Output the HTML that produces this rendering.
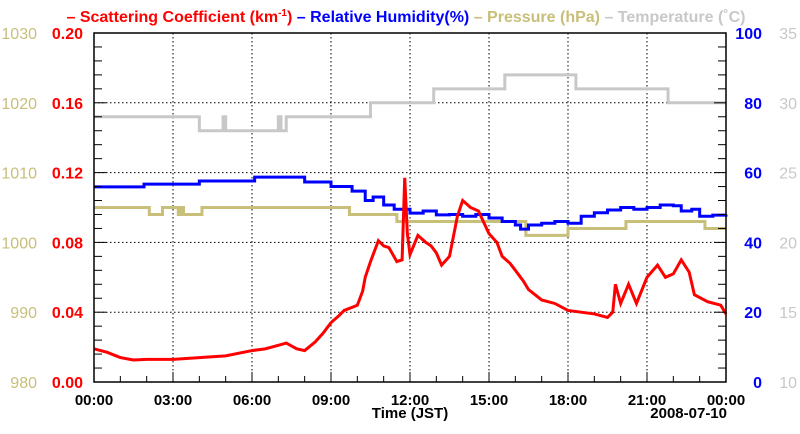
<!DOCTYPE html>
<html><head><meta charset="utf-8"><style>
body{margin:0;background:#fff}
svg{display:block;font-family:"Liberation Sans",sans-serif}
</style></head><body>
<svg id="c" width="800" height="434">
<text x="406" y="22" text-anchor="middle" font-size="16" font-weight="bold"><tspan fill="#ff0000">– Scattering Coefficient (km<tspan font-size="10" dy="-6">-1</tspan><tspan dy="6">)</tspan></tspan><tspan fill="#0000ff"> – Relative Humidity(%)</tspan><tspan fill="#c8bf7a"> – Pressure (hPa)</tspan><tspan fill="#c8c8c8"> – Temperature (˚C)</tspan></text>
<g id="grid"></g><g id="series"></g><g id="axes"></g>
<text x="410" y="418" text-anchor="middle" font-size="15" font-weight="bold">Time (JST)</text>
<text x="727" y="418" text-anchor="end" font-size="15" font-weight="bold">2008-07-10</text>
</svg>
<script>
const xTickLabels=["00:00","03:00","06:00","09:00","12:00","15:00","18:00","21:00","00:00"];
const leftTicks=["0.00","0.04","0.08","0.12","0.16","0.20"];
const pressTicks=["980","990","1000","1010","1020","1030"];
const rhTicks=["0","20","40","60","80","100"];
const tempTicks=["10","15","20","25","30","35"];
const tempH=[0,4,4.9,5.0,7.0,7.1,7.3,10.5,12.9,15.6,18.3,21.8,24];
const tempV=[29,28,29,28,29,28,29,30,31,32,31,30,30];
const presH=[0,2.1,2.6,3.2,3.3,3.4,4.1,9.7,11.5,16.4,18,20.2,23.2,24];
const presV=[1005,1004,1005,1004,1005,1004,1005,1004,1003,1001,1002,1003,1002,1002];
const rhH=[0,1.9,4,6.1,8,9,9.8,10.3,10.6,11,11.4,12,12.5,13,13.5,14,14.5,15,15.5,16,16.2,16.5,17,17.5,18,18.5,19,19.5,20,20.5,21,21.5,22,22.3,22.7,23,23.5,24];
const rhV=[55.9,56.7,57.6,58.7,57.3,56,54.7,52,53,50.7,49.5,48.4,49,47.9,48,47.5,48,47,46,45,43.8,45,45.5,46,45.5,47.5,48.5,49.3,50,49.5,50,50.7,50.5,49,49.5,47.5,47.8,48];
const scH=[0,0.5,1,1.5,2,3,4,5,6,6.5,7,7.3,7.7,8,8.4,8.7,9,9.3,9.5,10,10.2,10.3,10.5,10.8,11,11.2,11.5,11.7,11.8,11.9,12,12.3,12.6,12.8,13,13.2,13.5,13.8,14,14.3,14.6,15,15.3,15.5,15.8,16,16.3,16.5,17,17.5,18,18.5,19,19.5,19.7,19.8,20,20.3,20.6,21,21.4,21.7,22,22.3,22.6,22.8,23.3,23.8,24];
const scV=[0.019,0.017,0.014,0.0126,0.013,0.013,0.014,0.015,0.018,0.019,0.021,0.0223,0.019,0.018,0.023,0.028,0.034,0.038,0.041,0.044,0.052,0.060,0.069,0.081,0.078,0.077,0.069,0.070,0.117,0.085,0.073,0.084,0.08,0.078,0.074,0.067,0.072,0.095,0.104,0.100,0.098,0.085,0.080,0.072,0.068,0.064,0.058,0.053,0.047,0.045,0.041,0.040,0.039,0.037,0.040,0.056,0.045,0.056,0.045,0.060,0.067,0.060,0.062,0.070,0.063,0.050,0.046,0.044,0.039];
const L=94,R=726,T=33,B=382;
const X=h=>L+h/24*(R-L);
const Ys=v=>B-v/0.2*(B-T);
const Yp=v=>B-(v-980)/50*(B-T);
const Yr=v=>B-v/100*(B-T);
const Yt=v=>B-(v-10)/25*(B-T);
const NS="http://www.w3.org/2000/svg";
function mk(tag,attrs,parent){const e=document.createElementNS(NS,tag);for(const k in attrs)e.setAttribute(k,attrs[k]);parent.appendChild(e);return e;}
const grid=document.getElementById('grid'),ser=document.getElementById('series'),ax=document.getElementById('axes');
for(let i=1;i<8;i++){const g=mk('line',{x1:X(i*3),x2:X(i*3),y1:T,y2:B,stroke:'#000','stroke-dasharray':'1.5 2.5','stroke-width':1},grid);

}
for(let i=1;i<5;i++){const g=mk('line',{x1:L,x2:R,y1:Ys(i*0.04),y2:Ys(i*0.04),stroke:'#000','stroke-dasharray':'1.5 2.5','stroke-width':1},grid);

}
function stepPts(H,V,Y){let p=[];for(let i=0;i<H.length;i++){if(i>0)p.push(X(H[i])+','+Y(V[i-1]));p.push(X(H[i])+','+Y(V[i]));}return p.join(' ');}
const t=mk('polyline',{points:stepPts(tempH,tempV,Yt),fill:'none',stroke:'#c8c8c8','stroke-width':3},ser);


const p=mk('polyline',{points:stepPts(presH,presV,Yp),fill:'none',stroke:'#c8bf7a','stroke-width':3},ser);


const r=mk('polyline',{points:stepPts(rhH,rhV,Yr),fill:'none',stroke:'#0000ff','stroke-width':3},ser);


const s=mk('polyline',{points:scH.map((h,i)=>X(h)+','+Ys(scV[i])).join(' '),fill:'none',stroke:'#ff0000','stroke-width':3},ser);


const fr=mk('rect',{x:L,y:T,width:R-L,height:B-T,fill:'none',stroke:'#000','stroke-width':1.5},ax);


for(let i=1;i<24;i++){mk('line',{x1:X(i),x2:X(i),y1:B,y2:B-(i%3?6:10),stroke:'#000','stroke-width':1},ax);}
for(let i=1;i<25;i++){const yy=Ys(i*0.008);const len=i%5?8:12;
mk('line',{x1:L,x2:L+len,y1:yy,y2:yy,stroke:'#000','stroke-width':1},ax);
mk('line',{x1:R,x2:R-len,y1:yy,y2:yy,stroke:'#000','stroke-width':1},ax);}
xTickLabels.forEach((lb,i)=>{const e=mk('text',{x:X(i*3),y:405,'text-anchor':'middle','font-size':15,'font-weight':'bold'},ax);e.textContent=lb;

});
leftTicks.forEach((lb,i)=>{const yy=Ys(i*0.04)+6;
const a=mk('text',{x:83,y:yy,'text-anchor':'end','font-size':16,'font-weight':'bold',fill:'#ff0000'},ax);a.textContent=lb;


const b=mk('text',{x:37,y:yy,'text-anchor':'end','font-size':16,fill:'#c8bf7a'},ax);b.textContent=pressTicks[i];


const c=mk('text',{x:762,y:yy,'text-anchor':'end','font-size':16,'font-weight':'bold',fill:'#0000ff'},ax);c.textContent=rhTicks[i];


const d=mk('text',{x:797,y:yy,'text-anchor':'end','font-size':16,fill:'#c8c8c8'},ax);d.textContent=tempTicks[i];

});
</script>
</body></html>
